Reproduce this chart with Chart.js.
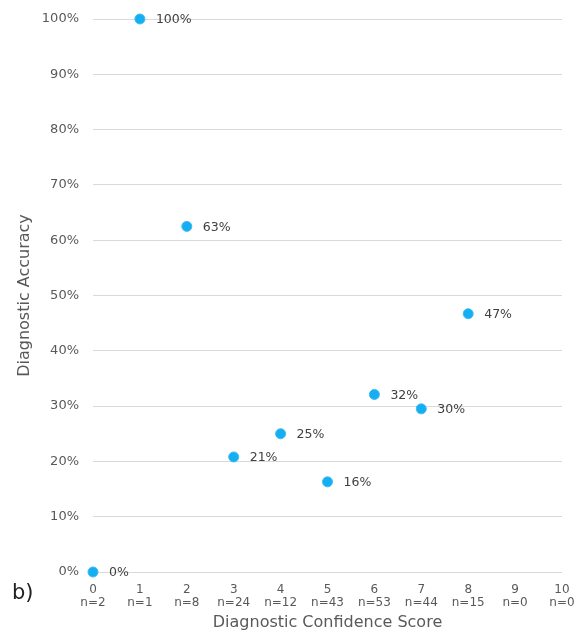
<!DOCTYPE html>
<html>
<head>
<meta charset="utf-8">
<script src="https://cdn.jsdelivr.net/npm/chart.js@4.4.0/dist/chart.umd.min.js"></script>
<style>
  html, body { margin: 0; padding: 0; background: #ffffff; }
  #wrap { width: 584px; height: 634px; position: relative; }
</style>
</head>
<body>
<div id="wrap"><canvas id="c" width="584" height="634"></canvas></div>
<script>
// Data
const scores = [0, 1, 2, 3, 4, 5, 6, 7, 8];
const accuracy = [0, 100, 62.5, 20.8, 25, 16.3, 32.1, 29.5, 46.7];
const pointLabels = ['0%', '100%', '63%', '21%', '25%', '16%', '32%', '30%', '47%'];
const tickScores = [0, 1, 2, 3, 4, 5, 6, 7, 8, 9, 10];
const tickCounts = ['n=2', 'n=1', 'n=8', 'n=24', 'n=12', 'n=43', 'n=53', 'n=44', 'n=15', 'n=0', 'n=0'];
const yTicks = [0, 10, 20, 30, 40, 50, 60, 70, 80, 90, 100];

const FONT = "'DejaVu Sans', Verdana, sans-serif";

const labelPlugin = {
  id: 'valueLabels',
  afterDatasetsDraw(chart) {
    const ctx = chart.ctx;
    const meta = chart.getDatasetMeta(0);
    ctx.save();
    ctx.font = '12.5px ' + FONT;
    ctx.fillStyle = '#404040';
    ctx.textAlign = 'left';
    ctx.textBaseline = 'middle';
    meta.data.forEach((pt, i) => {
      ctx.fillText(pointLabels[i], pt.x + 16, pt.y + 1);
    });
    // panel label
    ctx.font = '21px ' + FONT;
    ctx.fillStyle = '#222222';
    ctx.textBaseline = 'middle';
    ctx.fillText('b)', 12, 594);
    ctx.restore();
  }
};

new Chart(document.getElementById('c'), {
  type: 'scatter',
  data: {
    datasets: [{
      data: scores.map((s, i) => ({ x: s, y: accuracy[i] })),
      backgroundColor: '#14aff0',
      borderColor: '#3dbaf0',
      borderWidth: 1,
      pointRadius: 5,
      pointHoverRadius: 5,
      clip: false
    }]
  },
  options: {
    responsive: false,
    animation: false,
    devicePixelRatio: 1,
    layout: { padding: { top: 19, right: 22, left: 0, bottom: 0 } },
    plugins: { legend: { display: false }, tooltip: { enabled: false } },
    scales: {
      x: {
        type: 'linear',
        min: 0, max: 10,
        afterBuildTicks(scale) { scale.ticks = tickScores.map(v => ({ value: v })); },
        afterFit(scale) { scale.height = 62; },
        grid: { display: false },
        border: { display: false },
        ticks: {
          padding: 3,
          color: '#595959',
          font: { family: FONT, size: 12, lineHeight: 1.1 },
          maxRotation: 0,
          autoSkip: false,
          callback: (v, i) => [String(tickScores[i]), tickCounts[i]]
        },
        title: {
          display: true,
          text: 'Diagnostic Confidence Score',
          color: '#595959',
          font: { family: FONT, size: 16 },
          padding: { top: 0, bottom: 2 }
        }
      },
      y: {
        min: 0, max: 100,
        afterBuildTicks(scale) { scale.ticks = yTicks.map(v => ({ value: v })); },
        afterFit(scale) { scale.width = 93; scale.paddingTop = 0; scale.paddingBottom = 0; },
        grid: { color: '#d9d9d9', lineWidth: 1, drawTicks: false },
        border: { display: false },
        ticks: {
          padding: 14,
          color: '#595959',
          font: { family: FONT, size: 13 },
          callback: v => v + '%'
        },
        title: {
          display: true,
          text: 'Diagnostic Accuracy',
          color: '#595959',
          font: { family: FONT, size: 16 },
          padding: { top: 15, bottom: 0 }
        }
      }
    }
  },
  plugins: [labelPlugin]
});
</script>
</body>
</html>
